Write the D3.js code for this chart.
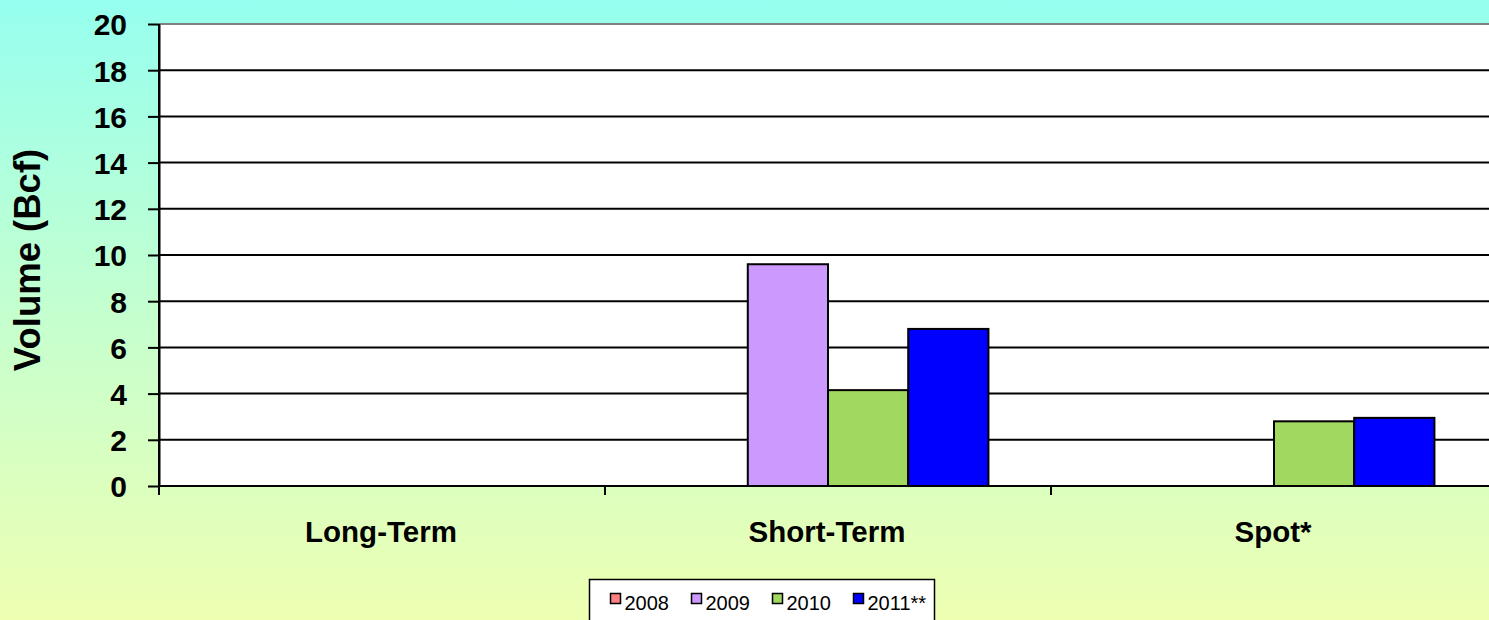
<!DOCTYPE html>
<html>
<head>
<meta charset="utf-8">
<script src="https://cdn.jsdelivr.net/npm/d3@7"></script>
<style>
  html, body { margin: 0; padding: 0; overflow: hidden; }
  svg { display: block; }
</style>
</head>
<body>
<svg id="chart" width="1489" height="620"></svg>
<script>
// Volume by contract type and year (Bcf)
const categories = ["Long-Term", "Short-Term", "Spot*"];
const seriesNames = ["2008", "2009", "2010", "2011**"];
const values2008 = [0, 0, 0];
const values2009 = [0, 9.6, 0];
const values2010 = [0, 4.15, 2.8];
const values2011 = [0, 6.8, 2.95];
const yTicks = [0, 2, 4, 6, 8, 10, 12, 14, 16, 18, 20];
const seriesColors = ["#FF8080", "#CC99FF", "#A0D860", "#0000FF"];

const seriesValues = [values2008, values2009, values2010, values2011];
const rows = categories.map((c, i) => ({
  category: c,
  values: seriesNames.map((s, j) => ({ series: s, value: seriesValues[j][i], color: seriesColors[j] }))
}));

const W = 1489, H = 620;
const plot = { left: 159, top: 24, right: 1497, bottom: 486 };
const svg = d3.select("#chart");
const FONT = "'Liberation Sans', Arial, sans-serif";

// background gradient
const defs = svg.append("defs");
const grad = defs.append("linearGradient").attr("id", "bg").attr("x1", 0).attr("y1", 0).attr("x2", 0).attr("y2", 1);
grad.append("stop").attr("offset", "0%").attr("stop-color", "#96FFEF");
grad.append("stop").attr("offset", "50%").attr("stop-color", "#C4FFCF");
grad.append("stop").attr("offset", "100%").attr("stop-color", "#EEFFB2");
svg.append("rect").attr("width", W).attr("height", H).attr("fill", "url(#bg)");

// plot area
svg.append("rect")
  .attr("x", plot.left).attr("y", plot.top)
  .attr("width", plot.right - plot.left).attr("height", plot.bottom - plot.top)
  .attr("fill", "#FFFFFF");
svg.append("line")
  .attr("x1", plot.left).attr("x2", plot.right)
  .attr("y1", plot.top).attr("y2", plot.top)
  .attr("stroke", "#808080").attr("stroke-width", 2);

const x0 = d3.scaleBand().domain(categories).range([plot.left, plot.right]).paddingInner(0).paddingOuter(0);
const x1 = d3.scaleBand().domain(seriesNames).range([0, x0.bandwidth()]).paddingOuter(0.78).paddingInner(0);
const y = d3.scaleLinear().domain([0, 20]).range([plot.bottom, plot.top]);

// horizontal gridlines
svg.append("g").selectAll("line")
  .data(yTicks.filter(t => t > 0 && t < 20))
  .join("line")
  .attr("x1", plot.left).attr("x2", plot.right)
  .attr("y1", d => y(d)).attr("y2", d => y(d))
  .attr("stroke", "#000").attr("stroke-width", 2);

// bars
const groups = svg.append("g").selectAll("g")
  .data(rows)
  .join("g")
  .attr("transform", d => `translate(${x0(d.category)},0)`);
groups.selectAll("rect")
  .data(d => d.values.filter(v => v.value > 0))
  .join("rect")
  .attr("x", d => x1(d.series))
  .attr("width", x1.bandwidth())
  .attr("y", d => y(d.value))
  .attr("height", d => y(0) - y(d.value))
  .attr("fill", d => d.color)
  .attr("stroke", "#000").attr("stroke-width", 2);

// y axis
const yAxis = svg.append("g")
  .attr("transform", `translate(${plot.left},0)`)
  .call(d3.axisLeft(y).tickValues(yTicks).tickSize(11).tickPadding(21).tickSizeOuter(0));
yAxis.select(".domain").attr("stroke", "#000").attr("stroke-width", 2);
yAxis.selectAll(".tick line").attr("stroke", "#000").attr("stroke-width", 2);
yAxis.selectAll(".tick text")
  .attr("font-family", FONT).attr("font-size", 30).attr("font-weight", "bold")
  .attr("fill", "#000").attr("dy", "0.36em");
// extend the axis line down to the category tick length
svg.append("line")
  .attr("x1", plot.left).attr("x2", plot.left)
  .attr("y1", plot.top).attr("y2", plot.bottom + 9)
  .attr("stroke", "#000").attr("stroke-width", 2);

// category axis
svg.append("line")
  .attr("x1", plot.left).attr("x2", plot.right)
  .attr("y1", plot.bottom).attr("y2", plot.bottom)
  .attr("stroke", "#000").attr("stroke-width", 2);
svg.append("g").selectAll("line")
  .data(categories.slice(1))
  .join("line")
  .attr("x1", d => x0(d)).attr("x2", d => x0(d))
  .attr("y1", plot.bottom).attr("y2", plot.bottom + 9)
  .attr("stroke", "#000").attr("stroke-width", 2);
svg.append("g").selectAll("text")
  .data(categories)
  .join("text")
  .attr("x", d => x0(d) + x0.bandwidth() / 2 - 1)
  .attr("y", 542)
  .attr("text-anchor", "middle")
  .attr("font-family", FONT).attr("font-size", 29.5).attr("font-weight", "bold")
  .text(d => d);

// y axis title
svg.append("text")
  .attr("transform", `translate(40,260) rotate(-90)`)
  .attr("text-anchor", "middle")
  .attr("font-family", FONT).attr("font-size", 36.5).attr("font-weight", "bold")
  .text("Volume (Bcf)");

// legend
const legend = svg.append("g");
legend.append("rect")
  .attr("x", 589.5).attr("y", 579.5).attr("width", 345).attr("height", 50)
  .attr("fill", "#FFFFFF").attr("stroke", "#000").attr("stroke-width", 1.5);
const legendX = [610, 691, 772, 853];
const items = legend.selectAll("g.item")
  .data(seriesNames)
  .join("g").attr("class", "item")
  .attr("transform", (d, i) => `translate(${legendX[i]},0)`);
items.append("rect")
  .attr("x", 0.5).attr("y", 593.5).attr("width", 10).attr("height", 10)
  .attr("fill", (d, i) => seriesColors[i]).attr("stroke", "#000").attr("stroke-width", 1.5);
items.append("text")
  .attr("x", 14.5).attr("y", 610)
  .attr("font-family", FONT).attr("font-size", 20)
  .text(d => d);
</script>
</body>
</html>
